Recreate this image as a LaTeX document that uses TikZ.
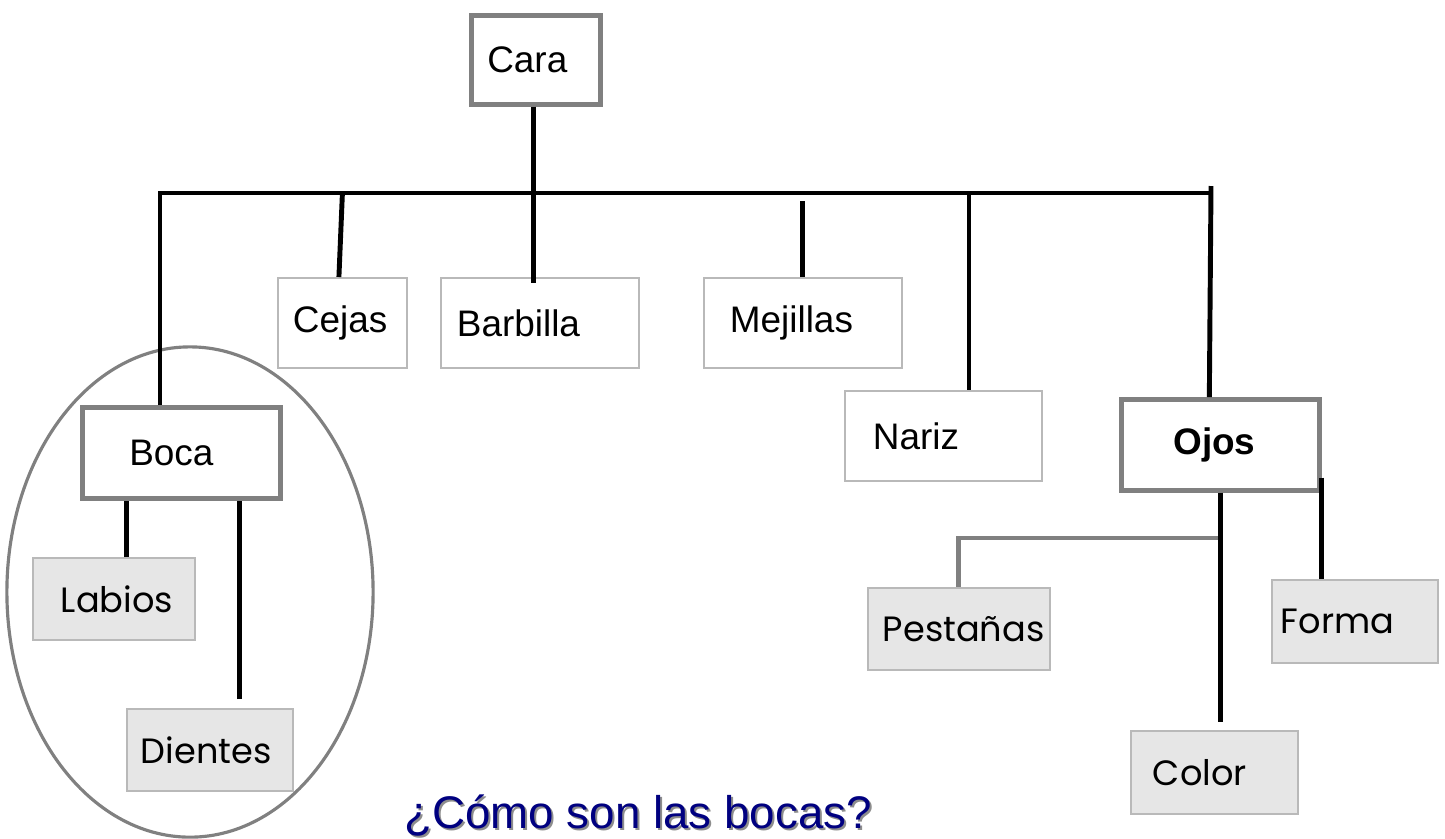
\documentclass[tikz,border=0pt]{standalone}
\usepackage{fontspec}
\setmainfont{Liberation Sans}
\newfontfamily\comicfont{Poppins}

\definecolor{boxline}{RGB}{185,185,185}
\definecolor{frame}{RGB}{128,128,128}
\definecolor{fillgrey}{RGB}{230,230,230}
\definecolor{navy}{RGB}{0,0,128}

\begin{document}
\begin{tikzpicture}[x=0.01cm, y=-0.01cm,
	every node/.style={font=\fontsize{10.5}{12}\selectfont, anchor=north west, inner ysep=0pt, align=left},
	plainbox/.style={draw=boxline, line width=0.5pt, fill=white},
	heavybox/.style={draw=frame, line width=1.3pt, fill=white},
	greybox/.style={draw=boxline, line width=0.5pt, fill=fillgrey, font=\comicfont\fontsize{10}{12}\selectfont},
	pad/.style n args={2}{inner xsep=#1, text width=#2},
	conn/.style={line width=1.4pt},
	greyconn/.style={draw=frame, line width=1.4pt},
	title/.style={anchor=base west, font=\fontsize{13}{15}\selectfont}]

\useasboundingbox (0,0) rectangle (1445,838);

% Ring round the mouth group
\draw[frame, line width=0.9pt] (190,592) ellipse [x radius=1.83cm, y radius=2.45cm];

% Top of the tree
\node[heavybox, pad={0.16cm}{0.97cm}, minimum height=0.89cm] (cara) at (469,13) {Cara};

% Parts hanging from the bar
\node[plainbox, pad={0.15cm}{0.99cm}, minimum height=0.90cm] (cejas) at (277,277) {Cejas};
\node[plainbox, pad={0.16cm}{1.66cm}, minimum height=0.90cm] (barbilla) at (440,277) {Barbilla};
\node[plainbox, pad={0.26cm}{1.46cm}, minimum height=0.90cm] (mejillas) at (703,277) {Mejillas};
\node[plainbox, pad={0.28cm}{1.41cm}, minimum height=0.90cm] (nariz) at (844,390) {Nariz};
\node[heavybox, pad={0.52cm}{0.94cm}, minimum height=0.91cm] (ojos) at (1119,397) {\bfseries Ojos};
\node[heavybox, pad={0.47cm}{1.04cm}, minimum height=0.91cm] (boca) at (80,405) {Boca};

% Details of the mouth
\node[greybox, pad={0.28cm}{1.06cm}, minimum height=0.82cm] (labios) at (32,557) {Labios};
\node[greybox, pad={0.14cm}{1.38cm}, minimum height=0.82cm] (dientes) at (126,708) {Dientes};

% Details of the eyes
\node[greybox, pad={0.15cm}{1.52cm}, minimum height=0.82cm] (pestanas) at (867,587) {Pestañas};
\node[greybox, pad={0.09cm}{1.48cm}, minimum height=0.83cm] (forma) at (1271,579) {Forma};
\node[greybox, pad={0.22cm}{1.23cm}, minimum height=0.83cm] (color) at (1130,730) {Color};

% Connectors
\coordinate (barL) at (160,193);
\coordinate (barR) at (1210,193);
\coordinate (narizTop) at (969,193);
\coordinate (eyeJ) at (1218,538);

\draw[conn] (barL |- boca.north) -- (barL) -- (barR);
\draw[conn] ([xshift=-0.025cm]cara.south) -- ([xshift=-0.025cm, yshift=-0.06cm]cara.south |- barbilla.north);
\draw[conn] ([xshift=-0.035cm]cejas.north) -- (cejas.north |- barL);
\draw[conn] (mejillas.north) -- ++(0,-76);
\draw[conn] (narizTop) -- (narizTop |- nariz.north);
\draw[conn] ([xshift=0.01cm, yshift=0.07cm]barR) -- ([xshift=-0.11cm]ojos.north);

\draw[conn] ([xshift=0.13cm]labios.north) -- ([xshift=0.13cm]labios.north |- boca.south);
\draw[conn] ([xshift=0.3cm, yshift=0.09cm]dientes.north) -- ([xshift=0.3cm]dientes.north |- boca.south);

\draw[conn] (ojos.south) -- ([yshift=0.08cm]ojos.south |- color.north);
\draw[conn] ([yshift=0.15cm]ojos.south east) -- (ojos.south east |- forma.north);
\draw[greyconn] (eyeJ) -| (pestanas.north);

% Question under the picture
\node[title, text=frame!90] (shadow) at (394,830) {¿Cómo son las bocas?};
\node[title, text=navy] (question) at (392,828) {¿Cómo son las bocas?};

\end{tikzpicture}
\end{document}
